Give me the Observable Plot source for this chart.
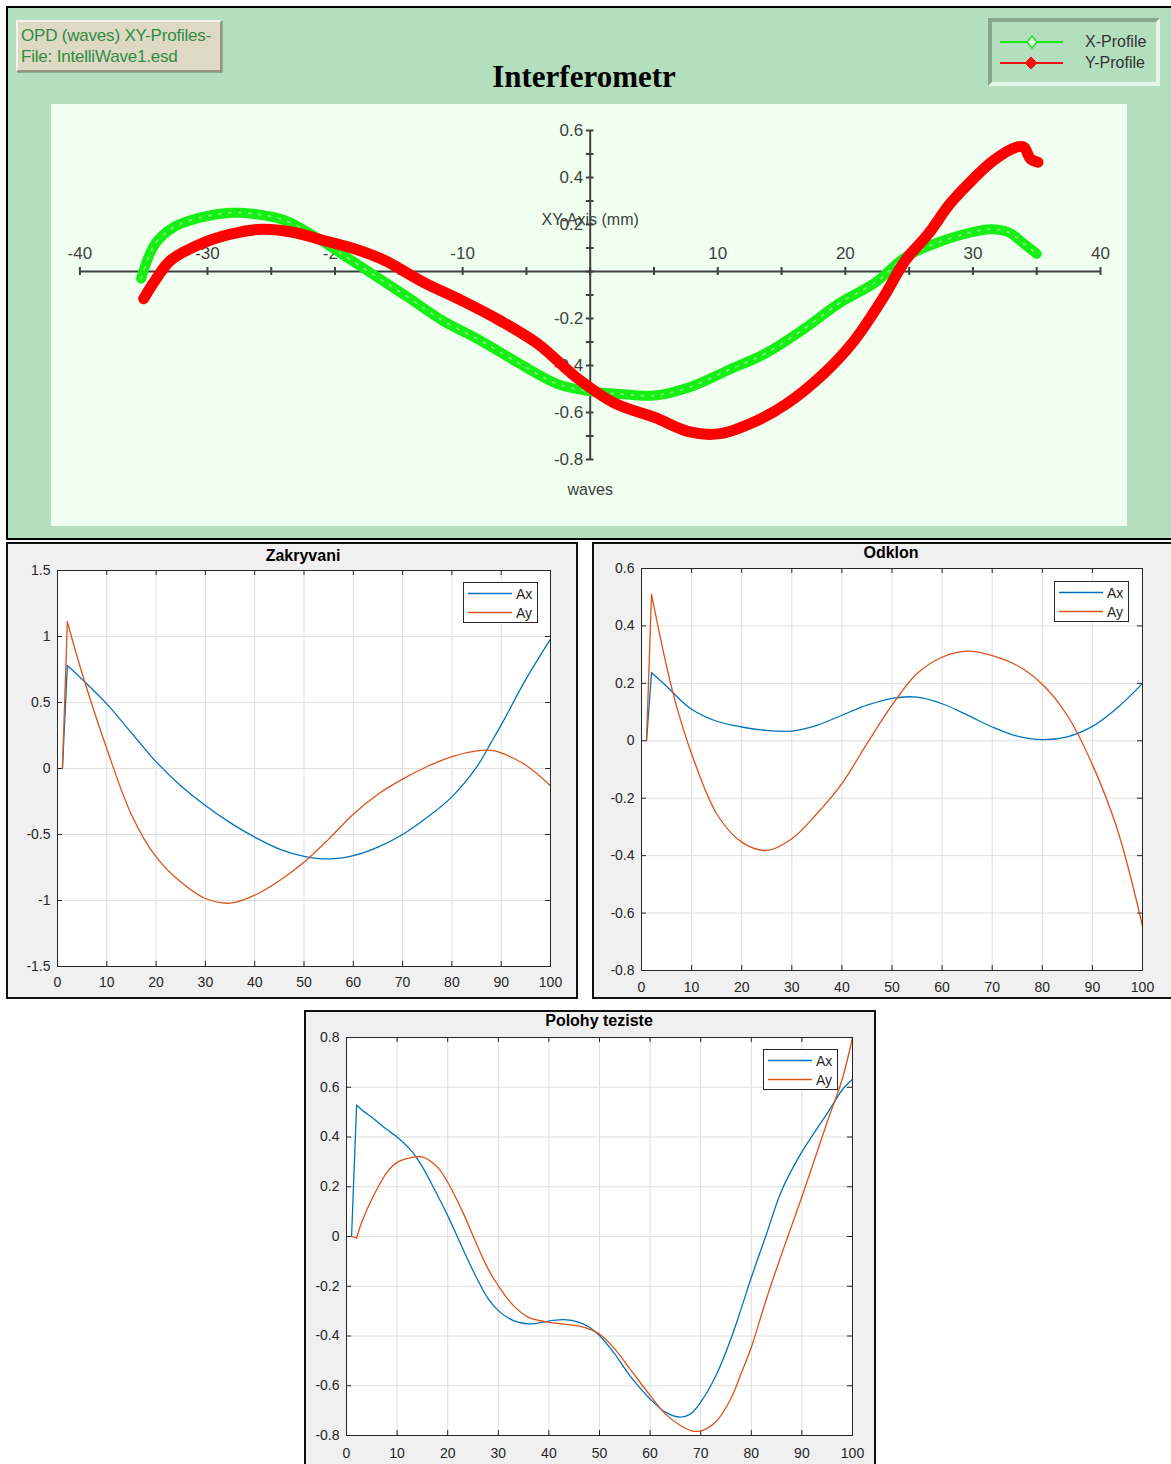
<!DOCTYPE html>
<html>
<head>
<meta charset="utf-8">
<script src="https://cdn.jsdelivr.net/npm/d3@7"></script>
<script src="https://cdn.jsdelivr.net/npm/@observablehq/plot@0.6"></script>
<style>
  body { margin: 0; background: #ffffff; }
  #root { position: relative; width: 1171px; height: 1464px; overflow: hidden; font-family: "Liberation Sans", Arial, sans-serif; }
  .abs { position: absolute; box-sizing: border-box; }
  .panel { background: #f0f0f0; border: 2px solid #111; }
  .mtitle { font-weight: bold; font-size: 16px; color: #000; text-align: center; line-height: 20px; }
  .leg { background: #fff; border: 1px solid #262626; }
  .legtxt { font-size: 14px; color: #262626; line-height: 16px; }
</style>
</head>
<body>
<div id="root">
  <!-- top panel -->
  <div class="abs" style="left:6px;top:6px;width:1170px;height:534px;background:#b4dfbe;border-left:2px solid #000;border-top:2px solid #000;border-bottom:2px solid #000;"></div>
  <div class="abs" id="topchart" style="left:51px;top:104px;width:1076px;height:422px;"></div>
  <div class="abs" style="left:16px;top:20px;width:206px;height:52px;background:#ddd9c3;border-top:2px solid #f6f4ea;border-left:2px solid #f6f4ea;border-right:2px solid #97957f;border-bottom:2px solid #97957f;box-shadow:1px 1px 0 #8fae96;padding:3px 0 0 3px;color:#2f8c45;font-size:17px;line-height:21px;letter-spacing:-0.2px;white-space:nowrap;">OPD (waves) XY-Profiles-<br>File: IntelliWave1.esd</div>
  <div class="abs" style="left:384px;top:59px;width:400px;text-align:center;font-family:'Liberation Serif','Times New Roman',serif;font-weight:bold;font-size:31px;line-height:36px;color:#000;">Interferometr</div>
  <div class="abs" style="left:988px;top:18px;width:172px;height:68px;border-style:solid;border-width:4px;border-color:#86a68d #e6f5e9 #e6f5e9 #86a68d;"></div>
  <svg class="abs" style="left:995px;top:30px;" width="75" height="45">
    <line x1="5" y1="12" x2="68" y2="12" stroke="#18ea18" stroke-width="2"/>
    <path d="M37,6 L42,12 L37,18 L32,12 Z" fill="#e8ffe8" stroke="#18ea18" stroke-width="1.5"/>
    <line x1="5" y1="33" x2="68" y2="33" stroke="#f21010" stroke-width="2"/>
    <path d="M36,27 L42,33 L36,39 L30,33 Z" fill="#f21010" stroke="#f21010" stroke-width="1"/>
  </svg>
  <div class="abs" style="left:1085px;top:32px;font-size:16px;line-height:20px;color:#333;">X-Profile</div>
  <div class="abs" style="left:1085px;top:53px;font-size:16px;line-height:20px;color:#333;">Y-Profile</div>

  <!-- matlab panels -->
  <div class="abs panel" style="left:6px;top:542px;width:572px;height:457px;"></div>
  <div class="abs panel" style="left:592px;top:542px;width:585px;height:457px;"></div>
  <div class="abs panel" style="left:304px;top:1010px;width:572px;height:470px;"></div>
  <div class="abs" id="p1" style="left:8px;top:560px;width:568px;height:438px;"></div>
  <div class="abs" id="p2" style="left:594px;top:558px;width:577px;height:440px;"></div>
  <div class="abs" id="p3" style="left:306px;top:1027px;width:568px;height:437px;"></div>
  <div class="abs mtitle" style="left:203px;top:546px;width:200px;">Zakryvani</div>
  <div class="abs mtitle" style="left:791px;top:543px;width:200px;">Odklon</div>
  <div class="abs mtitle" style="left:499px;top:1011px;width:200px;">Polohy teziste</div>
</div>
<script>
// ---------- top chart data (Interferometr) ----------
const xProfX = [-35.2, -34.1, -32.6, -30.5, -28.1, -26.3, -23.9, -21.5, -19.1, -16.7, -14.3, -11.6, -8.6, -5.6, -2.6, 0, 2.1, 5.0, 7.9, 10.8, 13.7, 16.6, 19.5, 22.4, 24.7, 27.0, 29.9, 31.4, 32.8, 34.0, 35.0];
const xProfY = [-0.03, 0.118, 0.19, 0.23, 0.25, 0.245, 0.217, 0.146, 0.061, -0.024, -0.109, -0.208, -0.294, -0.39, -0.478, -0.51, -0.52, -0.528, -0.49, -0.42, -0.35, -0.25, -0.136, -0.045, 0.061, 0.118, 0.167, 0.18, 0.167, 0.118, 0.075];
const yProfX = [-35.0, -34.1, -32.9, -30.5, -28.1, -25.7, -23.3, -20.9, -18.5, -16.1, -13.1, -10.1, -7.1, -4.1, -1.1, 1.9, 5.0, 7.9, 10.2, 13.1, 15.4, 18.3, 20.7, 23.0, 24.7, 26.5, 28.2, 29.9, 31.6, 33.4, 34.0, 34.5, 35.1];
const yProfY = [-0.116, -0.038, 0.047, 0.118, 0.16, 0.18, 0.167, 0.132, 0.097, 0.047, -0.045, -0.123, -0.208, -0.308, -0.45, -0.56, -0.62, -0.684, -0.69, -0.634, -0.563, -0.435, -0.294, -0.109, 0.047, 0.16, 0.288, 0.387, 0.472, 0.529, 0.529, 0.48, 0.465];
const topXTicks = [-40, -35, -30, -25, -20, -15, -10, -5, 0, 5, 10, 15, 20, 25, 30, 35, 40];
const topXLabels = [-40, -30, -20, -10, 10, 20, 30, 40];
const topYTicks = [-0.8, -0.7, -0.6, -0.5, -0.4, -0.3, -0.2, -0.1, 0, 0.1, 0.2, 0.3, 0.4, 0.5, 0.6];
const topYLabels = [0.6, 0.4, 0.2, -0.2, -0.4, -0.6, -0.8];

// ---------- Zakryvani ----------
const zakX  = [1, 2, 5, 10, 15, 20, 25, 30, 35, 40, 45, 50, 55, 60, 65, 70, 75, 80, 85, 88, 90, 95, 100];
const zakAx = [0, 0.78, 0.675, 0.49, 0.27, 0.05, -0.13, -0.28, -0.41, -0.52, -0.61, -0.665, -0.685, -0.66, -0.595, -0.5, -0.37, -0.215, 0.01, 0.2, 0.33, 0.675, 0.98];
const zakAy = [0, 1.11, 0.72, 0.15, -0.35, -0.67, -0.86, -0.985, -1.02, -0.96, -0.85, -0.71, -0.535, -0.346, -0.195, -0.08, 0.015, 0.09, 0.133, 0.137, 0.118, 0.025, -0.13];

// ---------- Odklon ----------
const odkX  = [1, 2, 5, 7, 10, 15, 20, 25, 30, 35, 40, 45, 50, 55, 60, 65, 70, 75, 80, 85, 90, 95, 100];
const odkAx = [0, 0.237, 0.19, 0.155, 0.11, 0.068, 0.048, 0.036, 0.034, 0.054, 0.089, 0.124, 0.148, 0.152, 0.129, 0.09, 0.048, 0.016, 0.004, 0.014, 0.05, 0.115, 0.2];
const odkAy = [0, 0.509, 0.26, 0.12, -0.045, -0.254, -0.353, -0.382, -0.341, -0.254, -0.149, -0.01, 0.124, 0.234, 0.291, 0.312, 0.297, 0.262, 0.197, 0.088, -0.083, -0.31, -0.645];

// ---------- Polohy teziste ----------
const polX  = [1, 2, 3, 5, 8, 10, 13, 15, 18, 20, 23, 25, 28, 30, 33, 36, 40, 43, 46, 48, 50, 53, 56, 60, 63, 66, 68, 70, 73, 76, 78, 80, 83, 86, 90, 95, 98, 100];
const polAx = [0, 0.528, 0.51, 0.479, 0.43, 0.40, 0.34, 0.28, 0.165, 0.084, -0.05, -0.137, -0.25, -0.298, -0.338, -0.351, -0.34, -0.334, -0.345, -0.365, -0.398, -0.472, -0.559, -0.653, -0.706, -0.726, -0.713, -0.666, -0.56, -0.41, -0.29, -0.165, 0.01, 0.185, 0.34, 0.495, 0.59, 0.632];
const polAy = [0, -0.006, 0.057, 0.15, 0.258, 0.298, 0.318, 0.32, 0.278, 0.218, 0.097, 0.003, -0.131, -0.198, -0.278, -0.325, -0.345, -0.352, -0.36, -0.372, -0.392, -0.452, -0.532, -0.639, -0.713, -0.76, -0.78, -0.782, -0.745, -0.65, -0.55, -0.445, -0.25, -0.07, 0.16, 0.46, 0.635, 0.8];

const matXTicks = [0, 10, 20, 30, 40, 50, 60, 70, 80, 90, 100];
const zakYTicks = [-1.5, -1, -0.5, 0, 0.5, 1, 1.5];
const odkYTicks = [-0.8, -0.6, -0.4, -0.2, 0, 0.2, 0.4, 0.6];
const polYTicks = [-0.8, -0.6, -0.4, -0.2, 0, 0.2, 0.4, 0.6, 0.8];
const seriesNames = ["Ax", "Ay"];
const seriesColors = ["#0072BD", "#D95319"];

// ---------- top chart ----------
const axisCol = "#404040";
const greenRows = xProfX.map((x, i) => ({x, y: xProfY[i]}));
const redRows = yProfX.map((x, i) => ({x, y: yProfY[i]}));
const topChart = Plot.plot({
  width: 1076, height: 422,
  marginLeft: 28.4, marginRight: 27, marginTop: 26, marginBottom: 67,
  x: {domain: [-40, 40], axis: null},
  y: {domain: [-0.8, 0.6], axis: null},
  style: {background: "#f0fff0", fontFamily: "'Liberation Sans', Arial, sans-serif", fontSize: "17px", color: axisCol, overflow: "visible"},
  marks: [
    Plot.ruleY([0], {x1: -40, x2: 40, stroke: axisCol, strokeWidth: 2}),
    Plot.ruleX(topXTicks, {x: d => d, y1: -0.017, y2: 0.017, stroke: axisCol, strokeWidth: 2}),
    Plot.ruleX([0], {y1: -0.8, y2: 0.6, stroke: axisCol, strokeWidth: 2}),
    Plot.ruleY(topYTicks, {y: d => d, x1: -0.3, x2: 0.3, stroke: axisCol, strokeWidth: 2}),
    Plot.text(topXLabels, {x: d => d, y: 0, dy: -18, text: d => String(d), fill: axisCol, fontSize: 17}),
    Plot.text(topYLabels, {x: 0, y: d => d, dx: -7, textAnchor: "end", text: d => String(d), fill: axisCol, fontSize: 17}),
    Plot.text(["XY-Axis (mm)"], {x: 0, y: 0.221, text: d => d, fill: axisCol, fontSize: 16}),
    Plot.text(["waves"], {x: 0, y: -0.928, text: d => d, fill: axisCol, fontSize: 16}),
    Plot.line(greenRows, {x: "x", y: "y", stroke: "#16ee16", strokeWidth: 10, curve: "catmull-rom", strokeLinejoin: "round"}),
    Plot.line(greenRows, {x: "x", y: "y", stroke: "#9dff9d", strokeWidth: 2, strokeDasharray: "2,8", curve: "catmull-rom", strokeOpacity: 0.6}),
    Plot.line(redRows, {x: "x", y: "y", stroke: "#ff0000", strokeWidth: 11, curve: "catmull-rom", strokeLinejoin: "round"})
  ]
});
document.getElementById("topchart").appendChild(topChart);

// ---------- matlab-style panels ----------
function matlab(el, cfg) {
  const rows = [];
  cfg.xs.forEach((x, i) => rows.push({x, v: cfg.ax[i], s: "Ax"}));
  cfg.xs.forEach((x, i) => rows.push({x, v: cfg.ay[i], s: "Ay"}));
  const [y0, y1] = cfg.yDomain;
  const dark = "#262626";
  const chart = Plot.plot({
    width: cfg.width, height: cfg.height,
    marginLeft: cfg.ml, marginRight: cfg.mr, marginTop: cfg.mt, marginBottom: cfg.mb,
    x: {domain: [0, 100]},
    y: {domain: cfg.yDomain},
    color: {domain: seriesNames, range: seriesColors},
    style: {background: "transparent", fontFamily: "'Liberation Sans', Arial, sans-serif", fontSize: "14px", color: dark, overflow: "visible"},
    marks: [
      Plot.frame({fill: "#ffffff"}),
      Plot.gridX({ticks: matXTicks, stroke: "#dedede", strokeOpacity: 1}),
      Plot.gridY({ticks: cfg.yTicks, stroke: "#dedede", strokeOpacity: 1}),
      Plot.ruleX(matXTicks, {x: d => d, y1: y0, y2: y0 + cfg.yLen, stroke: dark}),
      Plot.ruleX(matXTicks, {x: d => d, y1: y1, y2: y1 - cfg.yLen, stroke: dark}),
      Plot.ruleY(cfg.yTicks, {y: d => d, x1: 0, x2: cfg.xLen, stroke: dark}),
      Plot.ruleY(cfg.yTicks, {y: d => d, x1: 100, x2: 100 - cfg.xLen, stroke: dark}),
      Plot.axisX({ticks: matXTicks, anchor: "bottom", tickSize: 0, tickPadding: cfg.padX, tickFormat: d => String(d), label: null}),
      Plot.axisY({ticks: cfg.yTicks, anchor: "left", tickSize: 0, tickPadding: 7, tickFormat: d => String(d), label: null}),
      Plot.line(rows.filter(d => d.x <= 2), {x: "x", y: "v", z: "s", stroke: "s", strokeWidth: 1.3}),
      Plot.line(rows.filter(d => d.x >= 2), {x: "x", y: "v", z: "s", stroke: "s", strokeWidth: 1.3, curve: "catmull-rom"}),
      Plot.frame({stroke: dark, strokeWidth: 1})
    ]
  });
  el.appendChild(chart);
}

matlab(document.getElementById("p1"), {
  xs: zakX, ax: zakAx, ay: zakAy, yDomain: [-1.5, 1.5], yTicks: zakYTicks,
  width: 568, height: 438, ml: 49, mr: 26, mt: 10, mb: 32, padX: 11, xLen: 1.0, yLen: 0.038
});
matlab(document.getElementById("p2"), {
  xs: odkX, ax: odkAx, ay: odkAy, yDomain: [-0.8, 0.6], yTicks: odkYTicks,
  width: 577, height: 440, ml: 47, mr: 29, mt: 10, mb: 28, padX: 12, xLen: 1.0, yLen: 0.0174
});
matlab(document.getElementById("p3"), {
  xs: polX, ax: polAx, ay: polAy, yDomain: [-0.8, 0.8], yTicks: polYTicks,
  width: 568, height: 437, ml: 40, mr: 22, mt: 10, mb: 29, padX: 13, xLen: 1.0, yLen: 0.02
});

// ---------- matlab legends ----------
const svgNS = "http://www.w3.org/2000/svg";
function legend(left, top) {
  const root = document.getElementById("root");
  const box = document.createElement("div");
  box.className = "abs leg";
  box.style.cssText = `left:${left}px;top:${top}px;width:75px;height:41px;`;
  const sw = document.createElementNS(svgNS, "svg");
  sw.setAttribute("width", "50");
  sw.setAttribute("height", "39");
  sw.style.cssText = "position:absolute;left:0;top:0;";
  box.appendChild(sw);
  seriesNames.forEach((name, i) => {
    const y = 10.5 + i * 19;
    const ln = document.createElementNS(svgNS, "line");
    ln.setAttribute("x1", "4"); ln.setAttribute("x2", "48");
    ln.setAttribute("y1", y); ln.setAttribute("y2", y);
    ln.setAttribute("stroke", seriesColors[i]);
    ln.setAttribute("stroke-width", "1.4");
    sw.appendChild(ln);
    const tx = document.createElement("div");
    tx.className = "abs legtxt";
    tx.style.cssText = `left:52px;top:${y - 8}px;`;
    tx.textContent = name;
    box.appendChild(tx);
  });
  root.appendChild(box);
}
legend(463, 582);
legend(1054, 581);
legend(763, 1049);
</script>
</body>
</html>
